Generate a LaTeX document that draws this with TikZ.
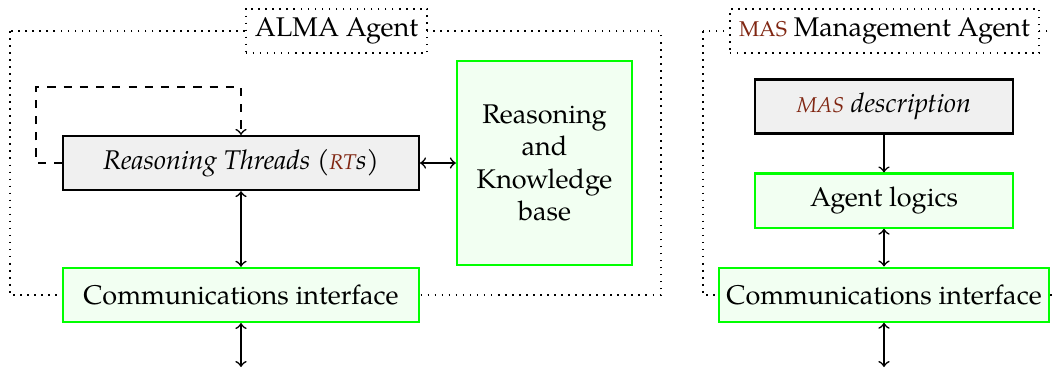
\documentclass[tikz,border=0pt]{standalone}
\usepackage{fontspec}
\setmainfont{texgyrepagella}[Extension=.otf,UprightFont=*-regular,ItalicFont=*-italic,BoldFont=*-bold,BoldItalicFont=*-bolditalic]
\usetikzlibrary{arrows,positioning,shapes,fit,calc}
\definecolor{acrored}{RGB}{128,38,18}
\newcommand{\acr}[1]{{\color{acrored}\fontsize{7.9}{9}\selectfont #1}}
\tikzset{
  agentbox/.style={draw,dotted,semithick},
  agenttitle/.style={draw,dotted,semithick,fill=white,minimum height=16.3pt,inner xsep=3.4pt},
  thread/.style={draw,thick,fill=black!6,minimum height=20pt,inner sep=2pt},
  module/.style={draw=green,thick,fill=green!5,minimum height=20pt,inner sep=2pt}
}

\begin{document}
\begin{tikzpicture}[x=0.37pt,y=-0.37pt,node distance=34.8pt,on grid,auto]
   \useasboundingbox (0,0) rectangle (1053,370);
   \clip (0,0) rectangle (1053,370);
   \draw [agentbox] (10,31) rectangle (661,295);
   \draw [agentbox] (703,31) rectangle (1075,295);
   \node [agenttitle] (alma) at (336.5,31) {ALMA Agent};
   \node [agenttitle] (mma) at (884.5,31) {\acr{MAS} Management Agent};

   \node [thread,minimum width=131.7pt] (rt) at (241,163) {\textit{Reasoning Threads (\acr{RT}s)}};
   \node [module,minimum width=64.8pt,minimum height=75.5pt,align=center] (kb) [right=112.3pt of rt] {Reasoning\\and\\Knowledge\\base};
   \node [module,minimum width=131.7pt] (comm) [below=48.8pt of rt] {Communications interface};
   \coordinate (commout) at (241,367);

   \node [thread,minimum width=95.5pt] (mas) at (884,106.5) {\textit{\acr{MAS} description}};
   \node [module,minimum width=95.5pt] (logic) [below=of mas] {Agent logics};
   \node [module,minimum width=122pt] (mcomm) [below=of logic] {Communications interface};
   \coordinate (mcommout) at (884,367);

   \draw [dashed,semithick,->] (rt.west) -| ++(-26,-76) -| (rt.north);
   \path[<->,semithick]
   (rt) edge (kb)
        edge (comm)
   (comm) edge (commout)
   (logic) edge (mcomm)
   (mcomm) edge (mcommout);
   \path[->,semithick] (mas) edge (logic);
\end{tikzpicture}
\end{document}
